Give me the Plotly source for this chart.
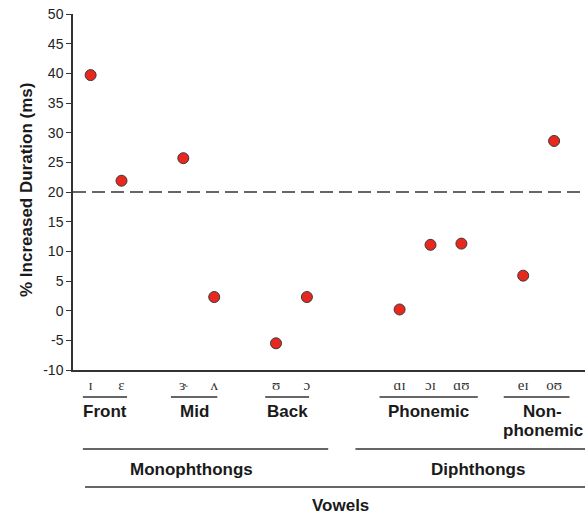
import plotly.graph_objects as go

# ---- data ----
vowels = ["ɪ", "ɛ", "ɝ", "ʌ", "ʊ", "ɔ", "ɑɪ", "ɔɪ", "ɑʊ", "eɪ", "oʊ"]
positions = [1, 2, 4, 5, 7, 8, 11, 12, 13, 15, 16]
increase = [39.7, 21.9, 25.7, 2.3, -5.5, 2.3, 0.2, 11.1, 11.3, 5.9, 28.6]
threshold = 20
y_ticks = [-10, -5, 0, 5, 10, 15, 20, 25, 30, 35, 40, 45, 50]
y_ticktext = ["-10", "-5", "0", "5", "10", "15", "20", "25", "30", "35", "40", "45", "50"]

subgroups = ["Front", "Mid", "Back", "Phonemic", "Non-<br>phonemic"]
subgroup_members = [[0, 1], [2, 3], [4, 5], [6, 7, 8], [9, 10]]
classes = ["Monophthongs", "Diphthongs"]
top_label = "Vowels"

# ---- layout helpers ----
W, H = 587, 514
ML, MR, MT, MB = 73, 2, 14, 144
XMIN, XMAX = 0.43, 17.0
plot_h = H - MT - MB
plot_w = W - ML - MR
axis_px = MT + plot_h  # pixel y of x axis line


def py(pix):
    """pixel row -> paper y"""
    return (axis_px - pix) / plot_h


def px(xv):
    """x data -> paper x"""
    return (xv - XMIN) / (XMAX - XMIN)


fig = go.Figure()
fig.add_trace(go.Scatter(
    x=positions, y=increase, mode="markers",
    marker=dict(size=11, color="#e8281e", line=dict(width=1, color="#3a3a3a")),
    showlegend=False, hoverinfo="y",
))

line_col = "#333333"
shapes = []
annotations = []

# threshold dashed line
shapes.append(dict(type="line", xref="paper", yref="y", x0=0, x1=1, y0=threshold, y1=threshold,
                   line=dict(color="#666666", width=2, dash="13px,6px")))

lab_font = dict(family="Liberation Sans, Arial, sans-serif", size=17, color="#1a1a1a")

# subgroup lines and labels
sub_pad = [(-0.25, 0.18), (-0.4, 0.1), (-0.35, 0.07), (-0.65, 0.53), (-0.63, 0.5)]
sub_label_x = [None, None, None, None, 15.64]
for name, mem, pad, lx in zip(subgroups, subgroup_members, sub_pad, sub_label_x):
    a = positions[mem[0]] + pad[0]
    b = positions[mem[-1]] + pad[1]
    shapes.append(dict(type="line", xref="paper", yref="paper", x0=px(a), x1=px(b),
                       y0=py(397), y1=py(397), line=dict(color=line_col, width=1.5)))
    cx = lx if lx is not None else (a + b) / 2
    for k, part in enumerate(name.split("<br>")):
        annotations.append(dict(x=px(cx), y=py(411 + 19 * k), xref="paper", yref="paper",
                                text=f"<b>{part}</b>", showarrow=False, yanchor="middle",
                                xanchor="center", font=lab_font))

# class lines
class_spans = [(0.75, 8.69), (9.57, 17.0)]
class_label_x = [4.25, 13.55]
for name, (a, b), lx in zip(classes, class_spans, class_label_x):
    shapes.append(dict(type="line", xref="paper", yref="paper", x0=px(a), x1=min(px(b), 1),
                       y0=py(449), y1=py(449), line=dict(color=line_col, width=1.5)))
    annotations.append(dict(x=px(lx), y=py(469), xref="paper", yref="paper", text=f"<b>{name}</b>",
                            showarrow=False, yanchor="middle", xanchor="center", font=lab_font))

# top-level line
shapes.append(dict(type="line", xref="paper", yref="paper", x0=px(0.82), x1=1,
                   y0=py(487), y1=py(487), line=dict(color=line_col, width=1.5)))
annotations.append(dict(x=px(9.08), y=py(505), xref="paper", yref="paper", text=f"<b>{top_label}</b>",
                        showarrow=False, yanchor="middle", xanchor="center", font=lab_font))

# y title
annotations.append(dict(x=(26 - ML) / plot_w, y=py(190), xref="paper", yref="paper",
                        text="<b>% Increased Duration (ms)</b>", textangle=-90, showarrow=False,
                        xanchor="center", yanchor="middle", font=lab_font))

fig.update_layout(
    width=W, height=H,
    margin=dict(l=ML, r=MR, t=MT, b=MB, pad=0),
    plot_bgcolor="white", paper_bgcolor="white",
    shapes=shapes, annotations=annotations,
    xaxis=dict(range=[XMIN, XMAX], showgrid=False, zeroline=False, showline=True,
               linecolor=line_col, linewidth=1.5, ticks="",
               tickvals=positions, ticktext=vowels,
               tickfont=dict(family="Liberation Serif, Times New Roman, serif", size=15, color="#333333")),
    yaxis=dict(range=[-10, 50], showgrid=False, zeroline=False, showline=True,
               linecolor=line_col, linewidth=1.5, ticks="outside", ticklen=5, tickwidth=1.2,
               tickcolor=line_col, tickvals=y_ticks, ticktext=y_ticktext,
               tickfont=dict(family="Liberation Sans, Arial, sans-serif", size=14, color="#222222")),
)

fig.write_html("out.html", config={"displayModeBar": False},
               post_script="document.body.style.margin='0';document.body.style.overflow='hidden';")
